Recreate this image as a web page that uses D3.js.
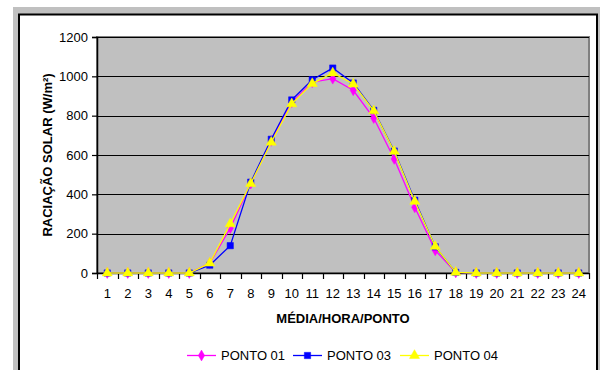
<!DOCTYPE html>
<html>
<head>
<meta charset="utf-8">
<script src="https://cdn.jsdelivr.net/npm/d3@7"></script>
<style>
  html, body { margin: 0; padding: 0; background: #ffffff; }
  svg { display: block; font-family: "Liberation Sans", Arial, sans-serif; }
</style>
</head>
<body>
<svg id="chart" width="600" height="370"></svg>
<script>
// Hourly mean solar radiation (W/m²) per measuring point
const hours = d3.range(1, 25);
const ponto01 = [0, 0, 0, 0, 0, 50, 228, 455, 672, 868, 970, 988, 929, 788, 580, 334, 115, 3, 0, 0, 0, 0, 0, 0];
const ponto03 = [0, 0, 0, 0, 0, 40, 139, 462, 680, 880, 983, 1042, 966, 827, 620, 370, 133, 3, 0, 0, 0, 0, 0, 0];
const ponto04 = [0, 0, 0, 0, 0, 50, 250, 455, 665, 860, 963, 1017, 961, 824, 618, 364, 135, 3, 0, 0, 0, 0, 0, 0];
const yTicks = [0, 200, 400, 600, 800, 1000, 1200];

const series = [
  { name: "PONTO 01", values: ponto01, color: "#ff00ff", symbol: d3.symbolDiamond, size: 34 },
  { name: "PONTO 03", values: ponto03, color: "#0000ff", symbol: d3.symbolSquare, size: 40 },
  { name: "PONTO 04", values: ponto04, color: "#ffff00", symbol: d3.symbolTriangle, size: 44 }
];

const svg = d3.select("#chart");

// Outer frame
svg.append("rect").attr("x", 13).attr("y", 7).attr("width", 587).attr("height", 363).attr("fill", "#c0c0c0");
svg.append("rect").attr("x", 19).attr("y", 14.5).attr("width", 578).attr("height", 370)
  .attr("fill", "#ffffff").attr("stroke", "#000000").attr("stroke-width", 2);

const plot = { left: 97, top: 37, right: 589, bottom: 273 };

const x = d3.scaleBand().domain(hours).range([plot.left, plot.right]);
const y = d3.scaleLinear().domain([0, 1200]).range([plot.bottom, plot.top]);

// Plot area
svg.append("rect")
  .attr("x", plot.left).attr("y", plot.top)
  .attr("width", plot.right - plot.left).attr("height", plot.bottom - plot.top)
  .attr("fill", "#c0c0c0").attr("stroke", "#808080").attr("stroke-width", 2);

// Gridlines
svg.append("g").selectAll("line")
  .data(yTicks.filter(d => d > 0))
  .join("line")
  .attr("x1", plot.left).attr("x2", plot.right)
  .attr("y1", d => Math.round(y(d)) + 0.5).attr("y2", d => Math.round(y(d)) + 0.5)
  .attr("stroke", "#000000").attr("stroke-width", 1);

// Y axis
const yAxis = svg.append("g")
  .attr("transform", `translate(${plot.left},0)`)
  .call(d3.axisLeft(y).tickValues(yTicks).tickSize(5).tickPadding(4).tickFormat(d3.format("d")));
yAxis.select(".domain").attr("stroke", "#000").attr("stroke-width", 1.5);
yAxis.selectAll(".tick line").attr("stroke", "#000").attr("stroke-width", 1.2);
yAxis.selectAll("text").attr("font-size", 13).attr("fill", "#000")
  .attr("font-family", "Liberation Sans, Arial, sans-serif");

// X axis: ticks sit between the hour bands
const xAxisG = svg.append("g").attr("transform", `translate(0,${plot.bottom})`);
xAxisG.append("line").attr("x1", plot.left).attr("x2", plot.right)
  .attr("y1", 0.5).attr("y2", 0.5).attr("stroke", "#000").attr("stroke-width", 1.5);
const bounds = hours.map(h => x(h)).concat([x(24) + x.bandwidth()]);
xAxisG.selectAll("line.tk").data(bounds).join("line").attr("class", "tk")
  .attr("x1", d => Math.round(d) + 0.5).attr("x2", d => Math.round(d) + 0.5)
  .attr("y1", 0).attr("y2", 6).attr("stroke", "#000").attr("stroke-width", 1.2);
xAxisG.selectAll("text").data(hours).join("text")
  .attr("x", d => x(d) + x.bandwidth() / 2).attr("y", 25)
  .attr("text-anchor", "middle").attr("font-size", 13).attr("fill", "#000")
  .text(d => d);

// Axis titles
svg.append("text")
  .attr("transform", `translate(52,155) rotate(-90)`)
  .attr("text-anchor", "middle").attr("font-size", 13).attr("font-weight", "bold")
  .text("RACIAÇÃO SOLAR (W/m²)");
svg.append("text")
  .attr("x", (plot.left + plot.right) / 2).attr("y", 323)
  .attr("text-anchor", "middle").attr("font-size", 13).attr("font-weight", "bold")
  .text("MÉDIA/HORA/PONTO");

// Series lines and markers
const line = d3.line().x((d, i) => x(hours[i]) + x.bandwidth() / 2).y(d => y(d));
series.forEach(s => {
  svg.append("path").datum(s.values).attr("d", line)
    .attr("fill", "none").attr("stroke", s.color).attr("stroke-width", 1.3);
  svg.append("g").selectAll("path").data(s.values).join("path")
    .attr("transform", (d, i) => `translate(${x(hours[i]) + x.bandwidth() / 2},${y(d)})`)
    .attr("d", d3.symbol().type(s.symbol).size(s.size))
    .attr("fill", s.color).attr("stroke", s.color).attr("stroke-width", 0.5);
});

// Legend
const legendX = [187, 293, 400];
const legend = svg.append("g");
series.forEach((s, i) => {
  const g = legend.append("g").attr("transform", `translate(${legendX[i]},355)`);
  g.append("line").attr("x1", 0).attr("x2", 29).attr("y1", 0.5).attr("y2", 0.5)
    .attr("stroke", s.color).attr("stroke-width", 1.3);
  g.append("path").attr("transform", "translate(14.5,0.5)")
    .attr("d", d3.symbol().type(s.symbol).size(s.size))
    .attr("fill", s.color).attr("stroke", s.color).attr("stroke-width", 0.5);
  g.append("text").attr("x", 34).attr("y", 5).attr("font-size", 13).attr("fill", "#000")
    .text(s.name);
});
</script>
</body>
</html>
